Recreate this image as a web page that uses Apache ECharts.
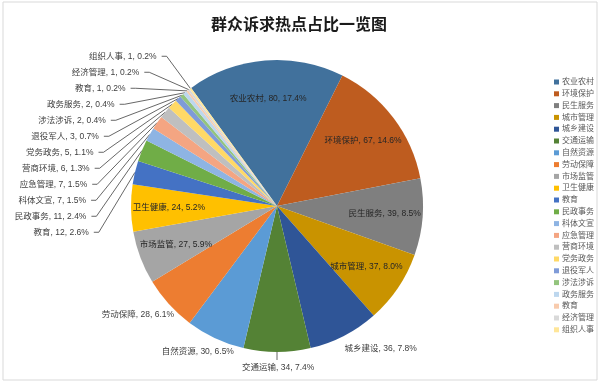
<!DOCTYPE html>
<html><head><meta charset="utf-8">
<script src="https://cdn.jsdelivr.net/npm/echarts@6/dist/echarts.min.js"></script>
<style>html,body{margin:0;padding:0;background:#fff}#c{width:600px;height:384px}</style>
</head><body><div id="c"></div>
<script>
const titleText = '群众诉求热点占比一览图';
const categories = ['农业农村','环境保护','民生服务','城市管理','城乡建设','交通运输','自然资源','劳动保障','市场监管','卫生健康','教育','民政事务','科体文宣','应急管理','营商环境','党务政务','退役军人','涉法涉诉','政务服务','教育\u200b','经济管理','组织人事'];
const values = [80,67,39,37,36,34,30,28,27,24,12,11,7,7,6,5,3,2,2,1,1,1];
const colors = ['#41719C','#BE5C1F','#7F7F7F','#C99300','#2F5597','#548235','#5B9BD5','#ED7D31','#A5A5A5','#FFC000','#4472C4','#70AD47','#8EB4E3','#F4A582','#BFBFBF','#FFD966','#7F9BD8','#93C47D','#BDD7EE','#F8CBAD','#D9D9D9','#FFE699'];
const innerLabelNames = ['农业农村','环境保护','民生服务','城市管理','市场监管','卫生健康'];
// small nudges for labels sitting close to the rim
const nearLabelNudge = {
  '城乡建设':[-6,10],
  '交通运输':[0,8],
  '自然资源':[25,11],
  '劳动保障':[9,8]
};

const total = values.reduce((a,b)=>a+b,0);
const fmt = p => p.name.replace('\u200b','') + ', ' + p.value + ', ' + (p.value/total*100).toFixed(1) + '%';
const font = "'Liberation Sans','Noto Sans CJK SC',sans-serif";

const mainData = categories.map((n,i)=>{
  const inner = innerLabelNames.includes(n);
  const item = {name:n, value:values[i], itemStyle:{color:colors[i]},
    label:{show:!inner}, labelLine:{show:!inner}};
  if (nearLabelNudge[n]) {
    item.labelLine = {show:false, length:3, length2:0};
  }
  if (n==='交通运输') {
    item.label = {show:true, padding:[0,0,0,-40]};
    item.labelLine = {show:true, length:8, length2:0};
  }
  return item;
});
const overlayData = categories.map((n,i)=>({name:n, value:values[i],
  label:{show:innerLabelNames.includes(n)}}));

const chart = echarts.init(document.getElementById('c'));
chart.setOption({
  animation:false,
  backgroundColor:'#fff',
  title:{text:titleText,left:294,textAlign:'center',top:11,
    textStyle:{fontSize:16,fontWeight:'bold',color:'#1a1a1a',fontFamily:"'Noto Sans CJK SC',sans-serif"}},
  legend:{orient:'vertical',left:549,top:73,itemWidth:5,itemHeight:5,itemGap:3.8,
    icon:'rect',selectedMode:false,
    formatter:n=>n.replace('\u200b',''),
    textStyle:{fontSize:8,color:'#595959',fontFamily:font,padding:[0,0,0,-2]}},
  graphic:[{type:'rect',shape:{x:3,y:2,width:594,height:378},style:{fill:'none',stroke:'#D9D9D9',lineWidth:1},silent:true}],
  series:[
    {type:'pie',center:[277,206],radius:146,startAngle:126,clockwise:true,
     data:mainData,
     avoidLabelOverlap:true,
     label:{position:'outside',formatter:fmt,fontSize:8.5,color:'#404040',fontFamily:font,lineHeight:14},
     labelLine:{length:40,length2:5,lineStyle:{color:'#404040',width:0.8}},
     labelLayout:p=>{
       const nd = nearLabelNudge[categories[p.dataIndex]];
       return nd ? {dx:nd[0], dy:nd[1]} : {};
     },
     emphasis:{disabled:true}},
    {type:'pie',center:[277,206],radius:[64,146],startAngle:126,clockwise:true,
     data:overlayData,silent:true,
     itemStyle:{color:'rgba(0,0,0,0)'},
     label:{position:'inside',formatter:fmt,fontSize:8.5,color:'#262626',fontFamily:font},
     labelLine:{show:false},emphasis:{disabled:true}}
  ]
});
</script></body></html>
